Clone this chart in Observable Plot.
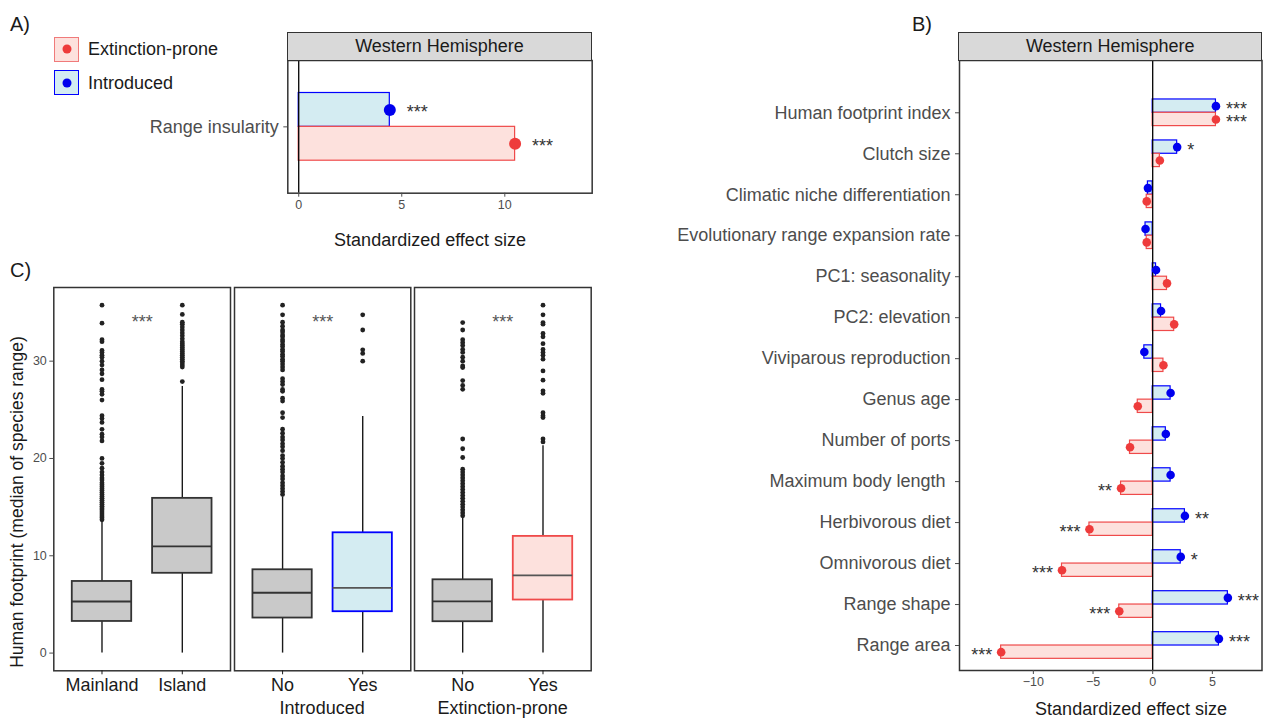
<!DOCTYPE html>
<html><head><meta charset="utf-8">
<script src="https://cdn.jsdelivr.net/npm/d3@7"></script>
<script src="https://cdn.jsdelivr.net/npm/@observablehq/plot@0.6"></script>
<style>
body{margin:0;background:#fff;}
#root{position:relative;width:1263px;height:718px;font-family:"Liberation Sans",Arial,Helvetica,sans-serif;overflow:hidden;background:#fff;}
#root svg{position:absolute;overflow:visible;}
.strip{position:absolute;background:#d9d9d9;border:1.5px solid #333;box-sizing:border-box;display:flex;align-items:center;justify-content:center;font-size:18px;color:#1a1a1a;}
.key{position:absolute;width:25px;height:25px;box-sizing:border-box;border:1.5px solid;}
.key i{position:absolute;left:50%;top:50%;width:9px;height:9px;border-radius:50%;transform:translate(-50%,-50%);}
</style></head>
<body><div id="root"></div>
<script>
// ---------- DATA ----------
// Panel A
const aCategories = ["Range insularity"];
const aIntroduced = [4.42];
const aIntroducedSig = ["***"];
const aExtinction = [10.5];
const aExtinctionSig = ["***"];
const aTicks = [0, 5, 10];

// Panel B
const bCategories = ["Human footprint index", "Clutch size", "Climatic niche differentiation",
  "Evolutionary range expansion rate", "PC1: seasonality", "PC2: elevation", "Viviparous reproduction",
  "Genus age", "Number of ports", "Maximum body length\u00a0", "Herbivorous diet", "Omnivorous diet",
  "Range shape", "Range area"];
const bIntroduced = [5.3, 2.05, -0.4, -0.6, 0.28, 0.7, -0.7, 1.5, 1.1, 1.5, 2.7, 2.35, 6.3, 5.55];
const bIntroducedSig = ["***", "*", "", "", "", "", "", "", "", "", "**", "*", "***", "***"];
const bExtinction = [5.3, 0.6, -0.5, -0.5, 1.2, 1.8, 0.9, -1.25, -1.9, -2.65, -5.3, -7.6, -2.8, -12.7];
const bExtinctionSig = ["***", "", "", "", "", "", "", "", "", "**", "***", "***", "***", "***"];
const bTicks = [-10, -5, 0, 5];
const zeroLine = [0];

// Panel C (box summaries)
const cGroup = ["", "", "Introduced", "Introduced", "Extinction-prone", "Extinction-prone"];
const cCategory = ["Mainland", "Island", "No", "Yes", "No", "Yes"];
const cHighlight = ["none", "none", "none", "Introduced", "none", "Extinction-prone"];
const cLow = [0, 0, 0, 0, 0, 0];
const cQ1 = [3.25, 8.2, 3.6, 4.25, 3.22, 5.45];
const cMedian = [5.3, 10.96, 6.2, 6.7, 5.31, 7.98];
const cQ3 = [7.36, 15.9, 8.56, 12.36, 7.53, 11.99];
const cHigh = [13.6, 27.4, 16.06, 24.3, 14.04, 21.3];
const cOutliers = [
  [35.75, 33.9, 32.2, 32.0, 31.1, 30.9, 30.6, 30.4, 30.0, 29.6, 29.1, 28.7, 28.1, 27.1, 26.9, 26.6, 26.0,
   24.4, 24.1, 23.7, 23.0, 22.5, 22.2, 21.8, 20.0, 19.5, 19.0, 18.6, 18.3, 18.0, 17.8, 17.5, 17.3, 17.1,
   16.9, 16.7, 16.5, 16.3, 16.1, 15.9, 15.7, 15.5, 15.3, 15.1, 14.9, 14.7, 14.5, 14.3, 14.1, 13.9, 13.7],
  [35.75, 34.8, 34.0, 33.8, 33.5, 33.2, 32.9, 32.6, 32.3, 32.0, 31.8, 31.6, 31.4, 31.2, 31.0, 30.8, 30.6,
   30.4, 30.2, 30.0, 29.8, 29.6, 29.4, 27.9],
  [35.75, 34.76, 34.0, 33.6, 33.2, 33.0, 32.7, 32.5, 32.2, 32.0, 31.7, 31.5, 31.2, 31.0, 30.7, 30.5, 30.2,
   30.0, 29.7, 29.4, 29.1, 28.2, 27.9, 27.6, 27.1, 26.9, 26.2, 25.9, 24.7, 24.2, 23.0, 22.6, 22.2, 21.9,
   21.5, 21.2, 20.8, 20.3, 20.0, 19.6, 19.2, 18.9, 18.6, 18.2, 17.9, 17.5, 17.2, 16.9, 16.6, 16.3],
  [34.76, 33.2, 31.16, 30.8, 30.0],
  [33.97, 33.2, 32.2, 31.9, 31.6, 31.2, 30.9, 30.4, 30.0, 29.5, 29.35, 28.0, 27.5, 27.1, 22.0, 21.0, 20.1,
   18.9, 18.6, 18.3, 18.0, 17.7, 17.4, 17.1, 16.8, 16.5, 16.2, 15.9, 15.6, 15.3, 15.0, 14.7, 14.4, 14.1],
  [35.75, 34.76, 33.97, 33.8, 32.84, 32.5, 31.8, 31.2, 30.9, 30.6, 30.2, 29.0, 28.05, 26.95, 26.7, 24.7,
   24.4, 24.2, 22.0, 21.7]
];
const cSig = ["***", "***", "***"];
const cTicks = [0, 10, 20, 30];

// ---------- STYLES ----------
const BLUE = "#0000ff", BLUE_FILL = "#d4ecf2", BLUE_DOT = "#0000ee";
const RED_LINE = "#ef4a4a", RED_FILL = "#fde1dd", RED_DOT = "#ee3b3b";
const FRAME = "#333333";
const highlightStyle = {
  "none": {fill: "#c9c9c9", stroke: "#333333", median: "#333333"},
  "Introduced": {fill: BLUE_FILL, stroke: BLUE, median: "#555555"},
  "Extinction-prone": {fill: RED_FILL, stroke: RED_LINE, median: "#555555"}
};
const baseStyle = {fontFamily: '"Liberation Sans", Arial, sans-serif', fontSize: "18px", background: "transparent", color: "#4d4d4d", overflow: "visible"};
const minusFmt = d => d < 0 ? "\u2212" + Math.abs(d) : String(d);

const root = document.getElementById("root");
function addText(txt, x, y, o = {}) {
  const d = document.createElement("div");
  d.textContent = txt;
  const size = o.size || 18;
  const tx = o.anchor === "start" ? "0" : o.anchor === "end" ? "-100%" : "-50%";
  Object.assign(d.style, {position: "absolute", left: x + "px", top: y + "px", fontSize: size + "px",
    lineHeight: "1", color: o.color || "#1a1a1a", whiteSpace: "nowrap",
    transform: `translate(${tx}, -50%)` + (o.rotate ? ` rotate(${o.rotate}deg)` : "")});
  root.appendChild(d);
}
function place(svg, left, top) {
  svg.style.left = left + "px";
  svg.style.top = top + "px";
  root.appendChild(svg);
}
function strip(txt, left, right, top, bottom) {
  const d = document.createElement("div");
  d.className = "strip";
  d.textContent = txt;
  Object.assign(d.style, {left: (left - 0.75) + "px", top: (top - 0.75) + "px",
    width: (right - left + 1.5) + "px", height: (bottom - top + 1.5) + "px"});
  root.appendChild(d);
}
function starMarks(rows, key, sigKey, dyOff, dxPos, dxNeg) {
  const common = {y: "cat", x: key, text: sigKey, dy: dyOff, fontSize: 18, fill: "#333"};
  return [
    Plot.text(rows.filter(d => d[key] >= 0), {...common, dx: dxPos, textAnchor: "start"}),
    Plot.text(rows.filter(d => d[key] < 0), {...common, dx: -dxNeg, textAnchor: "end"})
  ];
}

// ---------- PANEL A ----------
const A = {left: 287.3, right: 591.7, top: 60, bottom: 192.7, svgW: 600};
const aPadOuter = 0.48;
const aBand = (A.bottom - A.top) / (1 + 2 * aPadOuter);
const aRows = aCategories.map((c, i) => ({cat: c, intro: aIntroduced[i], introSig: aIntroducedSig[i], ext: aExtinction[i], extSig: aExtinctionSig[i]}));
const plotA = Plot.plot({
  width: A.svgW, height: (A.bottom - A.top) + 2 + 30,
  marginLeft: A.left, marginRight: A.svgW - A.right, marginTop: 2, marginBottom: 30,
  style: baseStyle,
  x: {domain: [-0.53, 14.24]},
  y: {domain: aCategories, paddingInner: 0, paddingOuter: aPadOuter, round: false},
  marks: [
    Plot.barX(aRows, {y: "cat", x: "intro", fill: BLUE_FILL, stroke: BLUE, strokeWidth: 1.2, insetBottom: aBand / 2}),
    Plot.barX(aRows, {y: "cat", x: "ext", fill: RED_FILL, stroke: RED_LINE, strokeWidth: 1.2, insetTop: aBand / 2}),
    Plot.ruleX(zeroLine, {stroke: "#000", strokeWidth: 1.3}),
    Plot.dot(aRows, {y: "cat", x: "intro", dy: -aBand / 4, r: 6, fill: BLUE_DOT}),
    Plot.dot(aRows, {y: "cat", x: "ext", dy: aBand / 4, r: 6, fill: RED_DOT}),
    ...starMarks(aRows, "intro", "introSig", -aBand / 4 + 2, 17, 17),
    ...starMarks(aRows, "ext", "extSig", aBand / 4 + 2, 17, 17),
    Plot.frame({stroke: FRAME, strokeWidth: 1.5}),
    Plot.axisX({ticks: aTicks, tickFormat: minusFmt, tickSize: 4, tickPadding: 3, fontSize: 12.5, color: "#4d4d4d", label: null}),
    Plot.axisY({tickSize: 4, tickPadding: 5, fontSize: 18, color: "#4d4d4d", label: null})
  ]
});
place(plotA, 0, A.top - 2);
strip("Western Hemisphere", A.left, A.right, 32.3, A.top);
addText("Standardized effect size", 430, 240);

// Legend & panel letters
addText("A)", 10, 24, {size: 20, anchor: "start"});
addText("B)", 912, 24, {size: 20, anchor: "start"});
addText("C)", 10, 270, {size: 20, anchor: "start"});
const legendItems = [
  {label: "Extinction-prone", fill: RED_FILL, stroke: "#f07a7a", dot: RED_DOT, y: 49},
  {label: "Introduced", fill: BLUE_FILL, stroke: BLUE, dot: BLUE_DOT, y: 82.5}
];
legendItems.forEach(it => {
  const k = document.createElement("div");
  k.className = "key";
  Object.assign(k.style, {left: "54px", top: (it.y - 12.5) + "px", background: it.fill, borderColor: it.stroke});
  const dot = document.createElement("i");
  dot.style.background = it.dot;
  k.appendChild(dot);
  root.appendChild(k);
  addText(it.label, 88, it.y, {anchor: "start"});
});

// ---------- PANEL B ----------
const B = {left: 959, right: 1261.5, top: 60, bottom: 670, svgLeft: 600};
const bPadInner = 0.35, bPadOuter = 0.175, bInsetTop = 31.8, bInsetBottom = 4.5;
const bStep = (B.bottom - B.top - bInsetTop - bInsetBottom) / (bCategories.length - bPadInner + 2 * bPadOuter);
const bBand = bStep * (1 - bPadInner);
const bRows = bCategories.map((c, i) => ({cat: c, intro: bIntroduced[i], introSig: bIntroducedSig[i], ext: bExtinction[i], extSig: bExtinctionSig[i]}));
const bW = 1263 - B.svgLeft;
const plotB = Plot.plot({
  width: bW, height: (B.bottom - B.top) + 2 + 30,
  marginLeft: B.left - B.svgLeft, marginRight: 1263 - B.right, marginTop: 2, marginBottom: 30,
  style: baseStyle,
  x: {domain: [-16.19, 9.16]},
  y: {domain: bCategories, paddingInner: bPadInner, paddingOuter: bPadOuter, insetTop: bInsetTop, insetBottom: bInsetBottom, round: false},
  marks: [
    Plot.barX(bRows, {y: "cat", x: "intro", fill: BLUE_FILL, stroke: BLUE, strokeWidth: 1.2, insetBottom: bBand / 2}),
    Plot.barX(bRows, {y: "cat", x: "ext", fill: RED_FILL, stroke: RED_LINE, strokeWidth: 1.2, insetTop: bBand / 2}),
    Plot.ruleX(zeroLine, {stroke: "#000", strokeWidth: 1.3}),
    Plot.dot(bRows, {y: "cat", x: "intro", dy: -bBand / 4, r: 4.3, fill: BLUE_DOT}),
    Plot.dot(bRows, {y: "cat", x: "ext", dy: bBand / 4, r: 4.3, fill: RED_DOT}),
    ...starMarks(bRows, "intro", "introSig", -bBand / 4 + 3, 10, 9),
    ...starMarks(bRows, "ext", "extSig", bBand / 4 + 3, 10, 9),
    Plot.frame({stroke: FRAME, strokeWidth: 1.5}),
    Plot.axisX({ticks: bTicks, tickFormat: minusFmt, tickSize: 4, tickPadding: 3, fontSize: 12.5, color: "#4d4d4d", label: null}),
    Plot.axisY({tickSize: 4, tickPadding: 5, fontSize: 18, color: "#4d4d4d", label: null})
  ]
});
place(plotB, B.svgLeft, B.top - 2);
strip("Western Hemisphere", B.left, B.right, 32.3, B.top);
addText("Standardized effect size", 1131, 709);

// ---------- PANEL C ----------
const C = {top: 286.7, bottom: 670};
const cFacets = [
  {idx: [0, 1], left: 53.3, right: 230, svgLeft: 0, yAxis: true},
  {idx: [2, 3], left: 234, right: 410.3, svgLeft: 232, yAxis: false},
  {idx: [4, 5], left: 414.3, right: 591, svgLeft: 412.3, yAxis: false}
];
cFacets.forEach((f, fi) => {
  const rows = f.idx.map(i => ({cat: cCategory[i], low: cLow[i], q1: cQ1[i], med: cMedian[i], q3: cQ3[i], high: cHigh[i], st: highlightStyle[cHighlight[i]]}));
  const outl = f.idx.flatMap(i => cOutliers[i].map(v => ({cat: cCategory[i], v})));
  const svgW = f.right - f.svgLeft + 2;
  const p = Plot.plot({
    width: svgW, height: (C.bottom - C.top) + 2 + 30,
    marginLeft: f.left - f.svgLeft, marginRight: 2, marginTop: 2, marginBottom: 30,
    style: baseStyle,
    color: {type: "identity"},
    x: {domain: f.idx.map(i => cCategory[i]), paddingInner: 0.26, paddingOuter: 0.23, round: false},
    y: f.yAxis ? {domain: [-1.82, 37.57]} : {domain: [-1.82, 37.57], axis: null},
    marks: [
      Plot.ruleX(rows, {x: "cat", y1: "low", y2: "q1", stroke: "#1a1a1a", strokeWidth: 1.4}),
      Plot.ruleX(rows, {x: "cat", y1: "q3", y2: "high", stroke: "#1a1a1a", strokeWidth: 1.4}),
      Plot.dot(outl, {x: "cat", y: "v", r: 2.4, fill: "#222", stroke: null}),
      Plot.barY(rows, {x: "cat", y1: "q1", y2: "q3", fill: d => d.st.fill, stroke: d => d.st.stroke, strokeWidth: 1.8}),
      Plot.tickY(rows, {x: "cat", y: "med", stroke: d => d.st.median, strokeWidth: 1.8}),
      Plot.text([cSig[fi]], {text: d => d, frameAnchor: "top", dy: 28, fontSize: 18, fill: "#555"}),
      Plot.frame({stroke: FRAME, strokeWidth: 1.5}),
      Plot.axisX({tickSize: 4, tickPadding: 3, fontSize: 18, color: "#1a1a1a", label: null}),
      ...(f.yAxis ? [Plot.axisY({ticks: cTicks, tickSize: 4, tickPadding: 3, fontSize: 12.5, color: "#4d4d4d", label: null})] : [])
    ]
  });
  place(p, f.svgLeft, C.top - 2);
  if (cGroup[f.idx[0]]) addText(cGroup[f.idx[0]], (f.left + f.right) / 2, 708);
});
addText("Human footprint (median of species range)", 18, 502, {size: 17.5, rotate: -90});
</script>
</body></html>
